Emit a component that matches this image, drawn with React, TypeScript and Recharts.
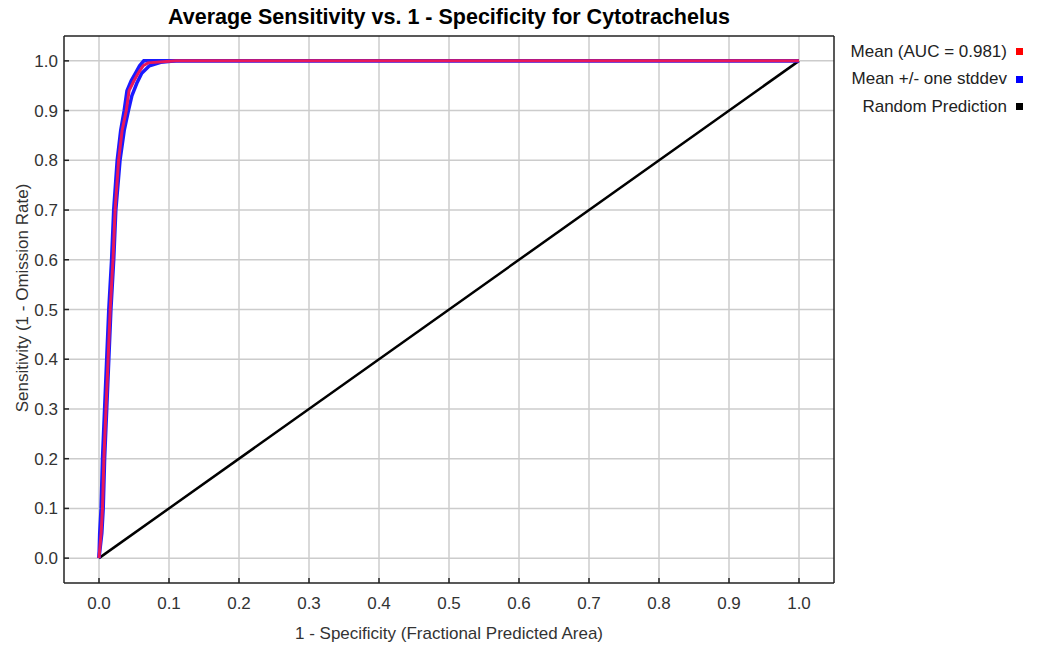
import { LineChart, Line, XAxis, YAxis, CartesianGrid } from "recharts";

const TITLE = "Average Sensitivity vs. 1 - Specificity for Cytotrachelus";
const X_LABEL = "1 - Specificity (Fractional Predicted Area)";
const Y_LABEL = "Sensitivity (1 - Omission Rate)";

const axisTicks = [0, 0.1, 0.2, 0.3, 0.4, 0.5, 0.6, 0.7, 0.8, 0.9, 1.0];

// mean ROC curve (fractional area, sensitivity)
const meanX = [0, 0.003, 0.005, 0.007, 0.01, 0.013, 0.016, 0.02, 0.023, 0.028, 0.033, 0.039, 0.043, 0.05, 0.056, 0.063, 0.07, 0.11, 1.0];
const meanY = [0, 0.05, 0.1, 0.2, 0.3, 0.4, 0.5, 0.6, 0.7, 0.8, 0.86, 0.9, 0.94, 0.96, 0.975, 0.99, 0.996, 1.0, 1.0];

// mean + one stddev
const upperX = [0, 0.001, 0.003, 0.005, 0.008, 0.011, 0.014, 0.018, 0.021, 0.026, 0.031, 0.036, 0.04, 0.046, 0.052, 0.058, 0.064, 1.0];
const upperY = [0, 0.05, 0.1, 0.2, 0.3, 0.4, 0.5, 0.6, 0.7, 0.8, 0.86, 0.9, 0.94, 0.96, 0.975, 0.99, 1.0, 1.0];

// mean - one stddev
const lowerX = [0, 0.004, 0.006, 0.008, 0.011, 0.014, 0.017, 0.021, 0.024, 0.03, 0.036, 0.042, 0.047, 0.054, 0.061, 0.072, 0.088, 0.11, 1.0];
const lowerY = [0, 0.05, 0.1, 0.2, 0.3, 0.4, 0.5, 0.6, 0.7, 0.8, 0.86, 0.9, 0.93, 0.955, 0.975, 0.99, 0.997, 1.0, 1.0];

const randomX = [0, 1];
const randomY = [0, 1];

const legendItems = [
  { label: "Mean (AUC = 0.981)", color: "#ff0000" },
  { label: "Mean +/- one stddev", color: "#0000ff" },
  { label: "Random Prediction", color: "#000000" },
];

const pts = (xs: number[], ys: number[]) => xs.map((x, i) => ({ x, y: ys[i] }));

const FONT = "'Liberation Sans', Arial, sans-serif";
const DOMAIN: [number, number] = [-0.05, 1.05];
const fmt = (v: number) => v.toFixed(1);

export default function App() {
  return (
    <div style={{ position: "absolute", left: 0, top: 0, width: 1037, height: 645, background: "#fff", fontFamily: FONT }}>
      <div
        style={{
          position: "absolute",
          left: 64,
          width: 770,
          top: 5,
          textAlign: "center",
          fontSize: 21.5,
          fontWeight: "bold",
          color: "#000",
        }}
      >
        {TITLE}
      </div>
      <LineChart
        width={1037}
        height={645}
        margin={{ top: 35, right: 202, bottom: 0, left: 24 }}
        style={{ fontFamily: FONT }}
      >
        <CartesianGrid stroke="#cccccc" strokeWidth={1.5} horizontalValues={axisTicks} verticalValues={axisTicks} />
        <XAxis
          dataKey="x"
          type="number"
          domain={DOMAIN}
          ticks={axisTicks}
          tickFormatter={fmt}
          allowDataOverflow
          height={62}
          stroke="#222"
          strokeWidth={1.5}
          tickSize={-5}
          tickMargin={19}
          tick={{ fill: "#333", fontSize: 17 }}
          label={{
            content: () => (
              <text x={449} y={639} textAnchor="middle" fill="#333" fontSize={17}>
                {X_LABEL}
              </text>
            ),
          }}
        />
        <XAxis
          xAxisId="top"
          dataKey="x"
          type="number"
          orientation="top"
          domain={DOMAIN}
          ticks={axisTicks}
          allowDataOverflow
          height={1}
          stroke="#222"
          strokeWidth={1.5}
          tickSize={-5}
          tick={false}
        />
        <YAxis
          dataKey="y"
          type="number"
          domain={DOMAIN}
          ticks={axisTicks}
          tickFormatter={fmt}
          allowDataOverflow
          width={40}
          stroke="#222"
          strokeWidth={1.5}
          tickSize={-5}
          tickMargin={11}
          tick={{ fill: "#333", fontSize: 17 }}
          label={{
            content: () => (
              <text transform="translate(28,298) rotate(-90)" textAnchor="middle" fill="#333" fontSize={17}>
                {Y_LABEL}
              </text>
            ),
          }}
        />
        <YAxis
          yAxisId="right"
          dataKey="y"
          type="number"
          orientation="right"
          domain={DOMAIN}
          ticks={axisTicks}
          allowDataOverflow
          width={1}
          stroke="#222"
          strokeWidth={1.5}
          tickSize={-5}
          tick={false}
        />
        <Line data={pts(randomX, randomY)} dataKey="y" stroke="#000" strokeWidth={2.5} dot={false} isAnimationActive={false} />
        <Line data={pts(upperX, upperY)} dataKey="y" type="linear" stroke="#1a1aff" strokeWidth={3.5} dot={false} isAnimationActive={false} />
        <Line data={pts(lowerX, lowerY)} dataKey="y" type="linear" stroke="#1a1aff" strokeWidth={3.5} dot={false} isAnimationActive={false} />
        <Line data={pts(meanX, meanY)} dataKey="y" type="linear" stroke="#e8185a" strokeWidth={3} dot={false} isAnimationActive={false} />
      </LineChart>
      <div style={{ position: "absolute", left: 820, top: 38, width: 206 }}>
        {legendItems.map((it) => (
          <div
            key={it.label}
            style={{ display: "flex", justifyContent: "flex-end", alignItems: "center", height: 27.5, fontSize: 17, color: "#222" }}
          >
            <span>{it.label}</span>
            <span style={{ display: "inline-block", width: 7, height: 7, background: it.color, marginLeft: 9, marginRight: 3 }} />
          </div>
        ))}
      </div>
    </div>
  );
}
